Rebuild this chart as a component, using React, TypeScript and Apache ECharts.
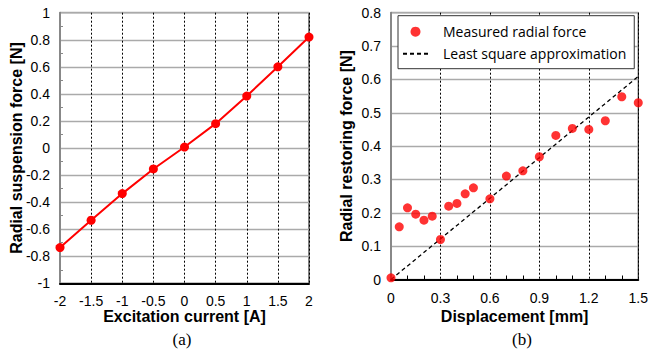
import React, { useEffect, useRef } from "react";
import * as echarts from "echarts";

// (a) Radial suspension force vs excitation current
const currentA = [-2, -1.5, -1, -0.5, 0, 0.5, 1, 1.5, 2];
const suspensionForceN = [-0.736, -0.534, -0.337, -0.155, 0.007, 0.18, 0.384, 0.6, 0.82];

// (b) Radial restoring force vs displacement
const displacementMm = [0, 0.05, 0.1, 0.15, 0.2, 0.25, 0.3, 0.35, 0.4, 0.45, 0.5, 0.6, 0.7, 0.8, 0.9, 1.0, 1.1, 1.2, 1.3, 1.4, 1.5];
const restoringForceN = [0.005, 0.158, 0.215, 0.196, 0.178, 0.19, 0.12, 0.22, 0.228, 0.257, 0.275, 0.242, 0.31, 0.326, 0.368, 0.432, 0.453, 0.45, 0.476, 0.548, 0.53];
const lsqX = [0, 1.5];
const lsqY = [0, 0.609];

const seriesNames = ["Measured radial force", "Least square approximation"];
const axisTitles = ["Excitation current [A]", "Radial suspension force [N]", "Displacement [mm]", "Radial restoring force [N]"];
const panelLabels = ["(a)", "(b)"];

const SANS = "'Liberation Sans', Arial, sans-serif";

export default function App() {
  const ref = useRef<HTMLDivElement>(null);
  useEffect(() => {
    if (!ref.current) return;
    const chart = echarts.init(ref.current, undefined, { renderer: "svg" });
    const fmt = (v: number) => String(Number(v.toFixed(2)));
    const tickLabel = { color: "#000", fontSize: 14, fontFamily: SANS, formatter: fmt };
    const nameStyle = { color: "#000", fontSize: 16, fontWeight: "bold" as const, fontFamily: SANS };
    chart.setOption({
      animation: false,
      backgroundColor: "#fff",
      grid: [
        { left: 60, right: 342, top: 12.7, bottom: 71.7, show: true, borderColor: "#000", borderWidth: 1 },
        { left: 391, right: 11, top: 12.7, bottom: 75.5, show: true, borderColor: "#000", borderWidth: 1 },
      ],
      xAxis: [
        {
          gridIndex: 0, type: "value", min: -2, max: 2, interval: 0.5,
          axisLine: { onZero: false, lineStyle: { color: "#000", width: 2 } },
          axisTick: { show: false, inside: true },
          axisLabel: { ...tickLabel, margin: 11 },
          splitLine: { show: true, lineStyle: { color: "#000", type: [2, 2], width: 1 } },
          name: axisTitles[0], nameLocation: "middle", nameGap: 25, nameMoveOverlap: false, nameTextStyle: nameStyle,
        },
        {
          gridIndex: 1, type: "value", min: 0, max: 1.5, interval: 0.3,
          axisLine: { onZero: false, lineStyle: { color: "#000", width: 2 } },
          axisTick: { show: false, inside: true },
          minorTick: { show: true, splitNumber: 3, length: 4, lineStyle: { color: "#000", width: 1 } },
          axisLabel: { ...tickLabel, margin: 11 },
          splitLine: { show: true, lineStyle: { color: "#000", type: [2, 2], width: 1 } },
          name: axisTitles[2], nameLocation: "middle", nameGap: 29, nameMoveOverlap: false, nameTextStyle: nameStyle,
        },
      ],
      yAxis: [
        {
          gridIndex: 0, type: "value", min: -1, max: 1, interval: 0.2,
          axisLine: { show: true, onZero: false, lineStyle: { color: "#888", width: 2 } },
          axisTick: { show: false, inside: true },
          minorTick: { show: true, splitNumber: 2, length: 3, lineStyle: { color: "#888", width: 1 } },
          axisLabel: { ...tickLabel, margin: 10 },
          splitLine: { show: true, lineStyle: { color: "#aaa", width: 1.3 } },
          name: axisTitles[1], nameLocation: "middle", nameRotate: 90, nameGap: 36, nameMoveOverlap: false, nameTextStyle: nameStyle,
        },
        {
          gridIndex: 1, type: "value", min: 0, max: 0.8, interval: 0.1,
          axisLine: { show: true, onZero: false, lineStyle: { color: "#888", width: 2 } },
          axisTick: { show: false, inside: true },
          axisLabel: { ...tickLabel, margin: 10 },
          splitLine: { show: true, lineStyle: { color: "#aaa", width: 1.3 } },
          name: axisTitles[3], nameLocation: "middle", nameRotate: 90, nameGap: 37, nameMoveOverlap: false, nameTextStyle: nameStyle,
        },
      ],
      legend: {
        left: 398, top: 15.7, orient: "vertical",
        backgroundColor: "#fff", borderColor: "#333", borderWidth: 1,
        padding: [9, 8, 8, 4], itemGap: 8, itemWidth: 25, itemHeight: 10,
        textStyle: { fontFamily: "'Open Sans', sans-serif", fontSize: 14, color: "#000", padding: [0, 0, 0, 10] },
        data: [
          { name: seriesNames[0], icon: "circle" },
          { name: seriesNames[1], itemStyle: { color: "rgba(0,0,0,0)", borderWidth: 0, opacity: 0 } },
        ],
      },
      series: [
        {
          type: "line", xAxisIndex: 0, yAxisIndex: 0,
          data: currentA.map((x, i) => [x, suspensionForceN[i]]),
          symbol: "circle", symbolSize: 9,
          itemStyle: { color: "#ff0000" },
          lineStyle: { color: "#ff0000", width: 2 },
        },
        {
          name: seriesNames[1], type: "line", xAxisIndex: 1, yAxisIndex: 1,
          data: lsqX.map((x, i) => [x, lsqY[i]]),
          symbol: "none", z: 2,
          itemStyle: { color: "#000" },
          lineStyle: { color: "#000", width: 1.3, type: [4, 3] },
        },
        {
          name: seriesNames[0], type: "scatter", xAxisIndex: 1, yAxisIndex: 1,
          data: displacementMm.map((x, i) => [x, restoringForceN[i]]),
          symbol: "circle", symbolSize: 9, z: 3,
          itemStyle: { color: "#ff0000" },
        },
      ],
      graphic: [
        { type: "text", x: 182, y: 339, style: { text: panelLabels[0], font: "17px 'Liberation Serif', serif", fill: "#000", align: "center", verticalAlign: "middle" } },
        { type: "text", x: 522, y: 339, style: { text: panelLabels[1], font: "17px 'Liberation Serif', serif", fill: "#000", align: "center", verticalAlign: "middle" } },
      ],
    });
    return () => chart.dispose();
  }, []);
  return <div ref={ref} style={{ position: "fixed", left: 0, top: 0, width: 651, height: 355 }} />;
}
